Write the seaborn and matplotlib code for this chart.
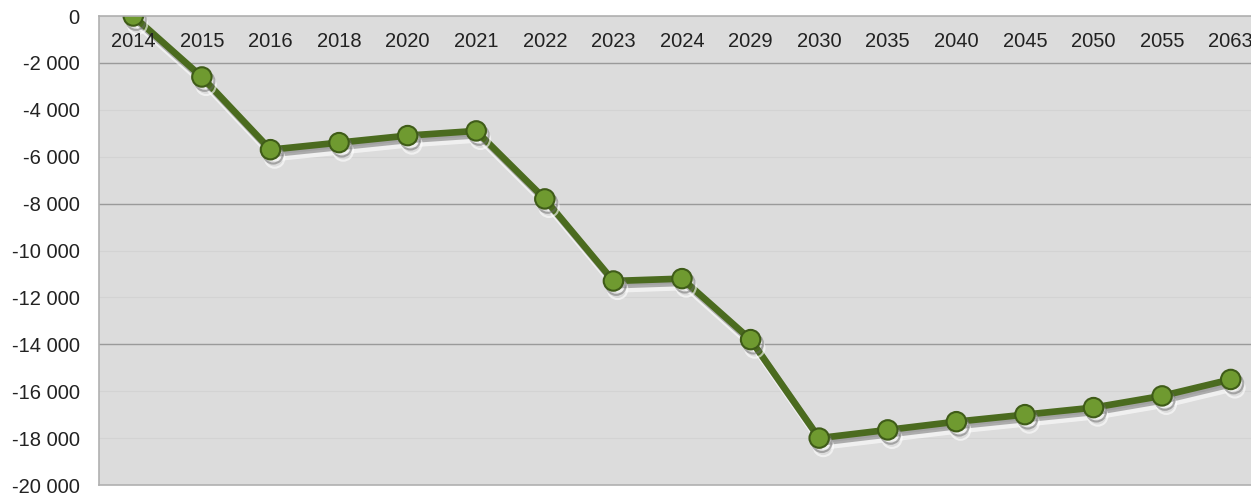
import numpy as np
import pandas as pd
import matplotlib
matplotlib.use("Agg")
import matplotlib.pyplot as plt
import matplotlib.patheffects as pe
from matplotlib.ticker import FuncFormatter
import seaborn as sns

# data
years = ["2014", "2015", "2016", "2018", "2020", "2021", "2022", "2023", "2024",
         "2029", "2030", "2035", "2040", "2045", "2050", "2055", "2063"]
values = [0, -2600, -5700, -5400, -5100, -4900, -7800, -11300, -11200,
          -13800, -18000, -17650, -17300, -17000, -16700, -16200, -15500]
y_ticks = list(range(0, -20001, -2000))
strong_grid = [-2000, -8000, -14000]

df = pd.DataFrame({"year": years, "value": values})

sns.set_style("white")
plt.rcParams["font.family"] = ["Liberation Sans", "DejaVu Sans"]

fig = plt.figure(figsize=(12.51, 4.96), dpi=100)
ax = fig.add_axes([99 / 1251, 11 / 496, 1166 / 1251, 469 / 496])
ax.set_facecolor("#dcdcdc")
ax.set_axisbelow(False)

# faint grid everywhere, stronger where it shows through
for v in y_ticks:
    ax.axhline(v, color="#d3d3d3", lw=0.8, zorder=0)
for v in strong_grid:
    ax.axhline(v, color="#9a9a9a", lw=1.0, zorder=1)

sns.lineplot(data=df, x="year", y="value", sort=False, ax=ax,
             color="#4b6b1f", lw=4.8, marker="o", markersize=14,
             markerfacecolor="#6f9a30", markeredgecolor="#3f5c18",
             markeredgewidth=1.5, zorder=2)
ln = ax.lines[-1]
ln.set_path_effects([
    pe.SimpleLineShadow(offset=(3, -6), shadow_color="white", alpha=0.6),
    pe.SimpleLineShadow(offset=(2, -3), shadow_color="#6a6a6a", alpha=0.5),
    pe.Normal(),
])

ax.set_xlim(-0.5, len(years) - 0.5)
ax.set_ylim(-20000, 0)
ax.set_yticks(y_ticks)
ax.yaxis.set_major_formatter(
    FuncFormatter(lambda v, p: f"{int(v):,}".replace(",", " ")))

ax.set_xlabel("")
ax.set_ylabel("")
ax.tick_params(axis="x", top=False, labeltop=True, bottom=False, labelbottom=False,
               length=0, pad=-25, labelsize=14.5, colors="#222222")
ax.tick_params(axis="y", left=False, length=0, pad=14, labelsize=14.5, colors="#222222")

for side in ["top", "bottom", "left"]:
    ax.spines[side].set_color("#b0b0b0")
    ax.spines[side].set_linewidth(1.2)
ax.spines["right"].set_visible(False)

fig.savefig("out.png", dpi=100)
